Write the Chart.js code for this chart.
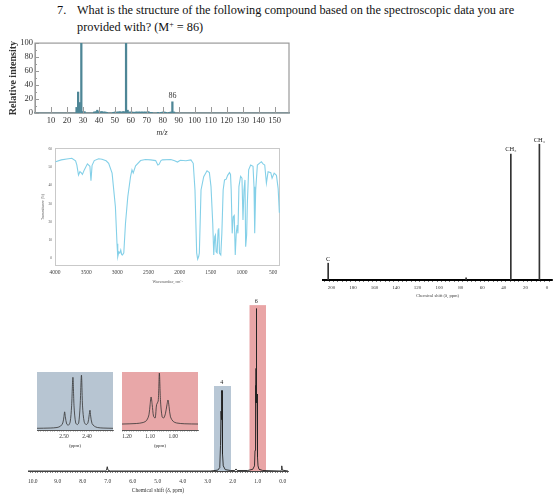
<!DOCTYPE html>
<html><head><meta charset="utf-8">
<script src="https://cdn.jsdelivr.net/npm/chart.js@4.4.1/dist/chart.umd.min.js"></script>
<style>
html,body{margin:0;padding:0;background:#fff;}
body{width:560px;height:496px;position:relative;overflow:hidden;font-family:"Liberation Serif",serif;}
canvas{position:absolute;}
.q{position:absolute;font-size:12.3px;line-height:14px;color:#111;white-space:nowrap;font-family:"Liberation Serif",serif;}
.q sup{font-size:8px;vertical-align:top;position:relative;top:-2px;}
</style></head><body>
<div class="q" style="left:57px;top:3px">7.</div>
<div class="q" style="left:77px;top:3px">What is the structure of the following compound based on the spectroscopic data you are</div>
<div class="q" style="left:77px;top:20px">provided with? (M<sup>+</sup> = 86)</div>
<canvas id="ms" width="300" height="104" style="left:0px;top:36px"></canvas>
<canvas id="ir" width="260" height="145" style="left:30px;top:140px"></canvas>
<canvas id="c13" width="250" height="170" style="left:310px;top:130px"></canvas>
<canvas id="h1" width="275" height="206" style="left:20px;top:290px"></canvas>
<canvas id="insetA" width="90" height="85" style="left:30px;top:365px"></canvas>
<canvas id="insetB" width="90" height="85" style="left:115px;top:365px"></canvas>
<script>
// ---------------- DATA ----------------
// Mass spectrum
const msMass      = [26,27,28,29,30,31,37,38,39,40,41,42,43,44,45,49,50,51,52,53,54,55,56,57,58,59,60,61,62,63,64,65,66,67,68,69,70,71,72,73,77,79,80,81,82,84,85,86,87];
const msIntensity = [8,30,15,100,2,2,1.5,2,4,2,2,2,1.5,1.5,1,1,1.5,1.5,1.5,2,1.5,2,2,100,4,1.5,1.5,1.5,1,1.5,1.5,1.5,1.5,1.5,1.5,1.5,1.5,2,1,1,1,1,1.5,1.5,1,1,1.5,16,1.5];
const msXTicks    = [10,20,30,40,50,60,70,80,90,100,110,120,130,140,150];
const msYTicks    = [0,20,40,60,80,100];
const msPeakLabels = [86];

// IR spectrum
const irWavenumber = [3990,3900,3811,3730,3670,3650,3623,3600,3580,3560,3530,3480,3440,3423,3405,3370,3300,3246,3180,3139,3084,3031,3005,2993,2975,2960,2945,2930,2918,2896,2869,2832,2788,2765,2745,2707,2627,2550,2465,2385,2350,2331,2300,2277,2142,2080,2035,1990,1900,1819,1782,1754,1727,1711,1695,1684,1657,1614,1561,1523,1497,1469,1453,1437,1426,1415,1399,1383,1372,1361,1340,1323,1302,1280,1253,1230,1200,1184,1173,1157,1140,1124,1108,1092,1076,1065,1049,1022,1000,984,968,952,941,925,914,893,861,823,807,796,780,753,689,662,635,608,581,538,517,484,447,420,400];
const irTransmittance = [53.0,54.0,54.5,54.9,53.5,51.2,45.7,47.5,47.0,46.0,48.5,51.8,50.5,42.6,51.0,53.6,54.6,54.3,53.5,52.1,46.7,28.3,8,0.9,3.5,2.9,4.6,2.0,1.8,3.0,19.2,33.8,44.8,48.5,46.8,50.7,53.6,54.2,54.0,53.6,51.2,51.5,53.6,54.0,54.2,53.5,52.8,53.8,53.5,54.0,52.1,37.5,3.0,-0.4,1.0,3.0,37.5,44.8,48.0,47.0,39.3,19.2,1.8,11.9,12.8,3.6,3.0,15.5,16.5,2.7,1.8,13.7,37.5,43.0,43.4,45.5,47.0,46.0,37.5,13.7,22.8,23.5,1.8,13.7,18.3,13.7,39.3,45.0,44.0,21.0,37.5,43.0,6.4,12.8,30,48.5,51.2,50.5,39.3,13.7,37.5,51.2,53.0,51.8,51.2,41.2,47.5,47.0,43.9,46.7,45.5,38.4,25];
const irXTicks = [4000,3500,3000,2500,2000,1500,1000,500];
const irYTicks = [0,10,20,30,40,50,60];

// 13C NMR
const c13Shift     = [203,75,33.5,7];
const c13Height    = [12,1.5,90,97];
const c13Labels    = ['C','','CH\u2082','CH\u2083'];
const c13XTicks    = [200,180,160,140,120,100,80,60,40,20,0];

// 1H NMR (full)
const h1Shift     = [10.19,7.10,7.05,7.02,6.99,6.90,2.90,2.60,2.52,2.49,2.47,2.46,2.45,2.44,2.43,2.42,2.40,2.38,2.30,2.10,1.92,1.87,1.82,1.40,1.20,1.13,1.11,1.10,1.09,1.08,1.07,1.06,1.05,1.04,1.03,1.01,0.99,0.95,0.80,0.10,0.06,0.04,0.02,-0.21];
const h1Intensity = [0,0,0.5,2.5,0.5,0,0,0.5,2,15,35,47,30,46,47,30,10,3,0.8,0.3,0.3,1.2,0.3,0.3,1,3,12,50,35,40,60,95,60,40,45,8,3,1,0.3,0,0.5,3,0.5,0];
const h1XTicks    = [10,9,8,7,6,5,4,3,2,1,0];
const h1Regions   = [[2.75,2.07,49.7],[1.33,0.67,97]];
const h1Integrals = [[2.44,'4'],[1.06,'6']];

// Inset A: quartet
const qShift     = [2.617,2.56,2.53,2.515,2.505,2.500,2.497,2.494,2.488,2.480,2.473,2.467,2.461,2.456,2.449,2.442,2.436,2.430,2.424,2.419,2.412,2.404,2.396,2.391,2.387,2.384,2.378,2.368,2.355,2.33,2.287];
const qIntensity = [0,0.5,1.5,4,10,22,31,22,8,6,12,40,96,40,10,7,10,40,100,40,12,7,10,23,34,23,9,4,1.5,0.5,0];
const qXTicks    = [2.50,2.40];

// Inset B: triplet
const tShift     = [1.2215,1.16,1.13,1.115,1.105,1.100,1.0957,1.091,1.085,1.078,1.072,1.065,1.060,1.055,1.048,1.041,1.034,1.027,1.0227,1.018,1.012,1.000,0.985,0.95,0.893];
const tIntensity = [0,1,3,7,18,38,53,38,15,12,38,45,100,45,14,12,20,38,47,34,14,5,2,0.5,0];
const tXTicks    = [1.20,1.10,1.00];

// ---------------- STYLE / SETUP ----------------
Chart.defaults.font.family = '"Liberation Serif", serif';
Chart.defaults.color = '#333';
const base = {responsive:false, animation:false, devicePixelRatio:1,
  plugins:{legend:{display:false}, tooltip:{enabled:false}}};
function pts(xs, ys){ return xs.map((v,i)=>({x:v, y:ys[i]})); }
function rangeTicks(a,b,step){ const t=[]; const n=Math.round((b-a)/step); for(let i=0;i<=n;i++) t.push(+(a+i*step).toFixed(4)); return t; }

// ---------- Mass spectrum ----------
new Chart(document.getElementById('ms'), {
  type:'bar',
  data:{datasets:[{data:pts(msMass,msIntensity), backgroundColor:'#4e8696', barThickness:1.6, grouped:false}]},
  options:{...base,
    layout:{padding:{left:0,right:11,top:7,bottom:0}},
    scales:{
      x:{type:'linear', min:0, max:159, offset:false, grid:{display:false, drawTicks:false},
         border:{display:true, color:'#5d8b96', width:1.5},
         afterBuildTicks:s=>{ s.ticks = msXTicks.map(v=>({value:v})); },
         ticks:{font:{size:8.5}, padding:3, maxRotation:0, autoSkip:false, color:'#333', callback:v=>String(v)},
         title:{display:true, text:'m/z', font:{size:8, style:'italic'}, padding:{top:0,bottom:2}},
         afterFit:s=>{ s.height = 27; }},
      y:{min:0, max:100, grid:{display:false, drawTicks:false}, border:{display:true, color:'#999'},
         afterBuildTicks:s=>{ s.ticks = msYTicks.map(v=>({value:v})); },
         ticks:{font:{size:8.5}, padding:2, color:'#333'},
         title:{display:true, text:'Relative intensity', font:{size:10, weight:'bold'}, padding:{top:7,bottom:0}},
         afterFit:s=>{ s.width = 35; }}
    }},
  plugins:[{id:'msDeco',
    beforeDatasetsDraw(c){ const {ctx, chartArea:a}=c; ctx.save(); ctx.strokeStyle='#9a9a9a'; ctx.lineWidth=1.2;
      ctx.strokeRect(a.left, a.top, a.right-a.left, a.bottom-a.top); ctx.restore(); },
    afterDatasetsDraw(c){ const {ctx, chartArea:a, scales:{x,y}}=c; ctx.save();
      ctx.strokeStyle='#9a9a9a'; ctx.lineWidth=1;
      msXTicks.forEach(v=>{ const px=Math.round(x.getPixelForValue(v))+0.5; ctx.beginPath(); ctx.moveTo(px,a.bottom); ctx.lineTo(px,a.bottom-6); ctx.stroke(); });
      for(let v=0; v<=100; v+=10){ const py=Math.round(y.getPixelForValue(v))+0.5; ctx.beginPath(); ctx.moveTo(a.left,py); ctx.lineTo(a.left+(v%20===0?4:2),py); ctx.stroke(); }
      ctx.fillStyle='#333'; ctx.font='8px "Liberation Serif"'; ctx.textAlign='center'; ctx.textBaseline='bottom';
      msPeakLabels.forEach(m=>{ const i=msMass.indexOf(m); ctx.fillText(String(m), x.getPixelForValue(m), y.getPixelForValue(msIntensity[i])-2); });
      ctx.restore(); }}]
});

// ---------- IR ----------
new Chart(document.getElementById('ir'), {
  type:'line',
  data:{datasets:[{data:pts(irWavenumber,irTransmittance), borderColor:'#84d0e8', borderWidth:1.1, pointRadius:0, tension:0, fill:false}]},
  options:{...base,
    layout:{padding:{left:0,right:10,top:8,bottom:0}},
    scales:{
      x:{type:'linear', reverse:true, min:390, max:4000, grid:{display:false, drawTicks:false}, border:{display:false},
         afterBuildTicks:s=>{ s.ticks = irXTicks.map(v=>({value:v})); },
         ticks:{font:{size:5.5}, padding:3, maxRotation:0, autoSkip:false, color:'#444', callback:v=>String(v)},
         title:{display:true, text:'Wavenumber, cm\u207B\u00B9', font:{size:4}, padding:{top:0,bottom:1}, color:'#555'},
         afterFit:s=>{ s.height = 19; }},
      y:{min:-4.2, max:60.5, grid:{display:false, drawTicks:false}, border:{display:false},
         afterBuildTicks:s=>{ s.ticks = irYTicks.map(v=>({value:v})); },
         ticks:{font:{size:3.5}, padding:3, color:'#555', callback:v=>String(v)},
         title:{display:true, text:'Transmittance (%)', font:{size:3.5}, padding:{top:11,bottom:0}, color:'#555'},
         afterFit:s=>{ s.width = 25; }}
    }},
  plugins:[{id:'irBox', beforeDatasetsDraw(c){ const {ctx, chartArea:a}=c; ctx.save(); ctx.strokeStyle='#c9c9c9'; ctx.lineWidth=1;
      ctx.strokeRect(a.left+0.5, a.top+0.5, a.right-a.left-1, a.bottom-a.top-1); ctx.restore(); }}]
});

// ---------- 13C ----------
new Chart(document.getElementById('c13'), {
  type:'bar',
  data:{datasets:[{data:pts(c13Shift,c13Height), backgroundColor:'#333', barThickness:1, grouped:false}]},
  options:{...base,
    layout:{padding:{left:13,right:8,top:10,bottom:0}},
    scales:{
      x:{type:'linear', reverse:true, min:-4.7, max:207.8, offset:false,
         grid:{display:true, drawOnChartArea:false, drawTicks:true, tickLength:2, color:'#222', lineWidth:0.6},
         border:{display:true, color:'#000', width:2},
         afterBuildTicks:s=>{ s.ticks = rangeTicks(-4,204,4).map(v=>({value:v})); },
         ticks:{font:{size:5}, padding:3, maxRotation:0, autoSkip:false, color:'#333',
                callback:(v)=> c13XTicks.includes(v) ? String(v) : ''},
         title:{display:true, text:'Chemical shift (\u03B4, ppm)', font:{size:4.5}, padding:{top:0,bottom:1}, color:'#444'},
         afterFit:s=>{ s.height = 20; }},
      y:{display:false, min:0, max:100}
    }},
  plugins:[{id:'c13Lab', afterDatasetsDraw(c){ const {ctx, scales:{x,y}}=c; ctx.save(); ctx.fillStyle='#222';
      ctx.font='6.5px "Liberation Serif"'; ctx.textAlign='center'; ctx.textBaseline='bottom';
      c13Shift.forEach((s,i)=>{ if(c13Labels[i]) ctx.fillText(c13Labels[i], x.getPixelForValue(s), y.getPixelForValue(c13Height[i])-1); });
      ctx.restore(); }}]
});

// ---------- 1H main ----------
const regionColors = ['rgba(176,193,208,0.9)','rgba(231,155,156,0.9)'];
new Chart(document.getElementById('h1'), {
  type:'line',
  data:{datasets:[{data:pts(h1Shift,h1Intensity), borderColor:'#222', borderWidth:0.9, pointRadius:0, tension:0, fill:false}]},
  options:{...base,
    layout:{padding:{left:8,right:7,top:10,bottom:0}},
    scales:{
      x:{type:'linear', reverse:true, min:-0.21, max:10.19,
         grid:{display:true, drawOnChartArea:false, drawTicks:true, tickLength:2, color:'#555', lineWidth:0.7},
         border:{display:true, color:'#444', width:1},
         afterBuildTicks:s=>{ s.ticks = rangeTicks(-0.2,10.1,0.1).map(v=>({value:v})); },
         ticks:{font:{size:5.5}, padding:5, maxRotation:0, autoSkip:false, color:'#333',
                callback:(v)=> h1XTicks.includes(v) ? v.toFixed(1) : ''},
         title:{display:true, text:'Chemical shift (\u03B4, ppm)', font:{size:5.5}, padding:{top:0,bottom:2}},
         afterFit:s=>{ s.height = 25; }},
      y:{display:false, min:0, max:100}
    }},
  plugins:[{id:'h1Deco',
    beforeDatasetsDraw(c){ const {ctx, chartArea:a, scales:{x,y}}=c; ctx.save();
      h1Regions.forEach((r,i)=>{ const x0=x.getPixelForValue(r[0]), x1=x.getPixelForValue(r[1]), yt=y.getPixelForValue(r[2]);
        ctx.fillStyle=regionColors[i]; ctx.fillRect(x0, yt, x1-x0, a.bottom-yt); });
      ctx.restore(); },
    afterDatasetsDraw(c){ const {ctx, scales:{x,y}}=c; ctx.save(); ctx.fillStyle='#222';
      ctx.font='6px "Liberation Serif"'; ctx.textAlign='center'; ctx.textBaseline='bottom';
      h1Integrals.forEach((g,i)=>{ ctx.fillText(g[1], x.getPixelForValue(g[0]), y.getPixelForValue(h1Regions[i][2])-1); });
      ctx.restore(); }}]
});

// ---------- insets ----------
function inset(id, xs, ys, ticks, xmin, xmax, ymin, ymax, bg){
  new Chart(document.getElementById(id), {
    type:'line',
    data:{datasets:[{data:pts(xs,ys), borderColor:'#333', borderWidth:0.8, pointRadius:0, tension:0.3, fill:false}]},
    options:{...base,
      layout:{padding:{left:7,right:7,top:7,bottom:0}},
      scales:{
        x:{type:'linear', reverse:true, min:xmin, max:xmax,
           grid:{display:true, drawOnChartArea:false, drawTicks:true, tickLength:1.5, color:'#555', lineWidth:0.6},
           border:{display:true, color:'#555', width:1, dash:[1,1]},
           afterBuildTicks:s=>{ s.ticks = rangeTicks(Math.ceil(xmin*100)/100, Math.floor(xmax*100)/100, 0.01).map(v=>({value:v})); },
           ticks:{font:{size:5.5}, padding:2, maxRotation:0, autoSkip:false, color:'#333',
                  callback:(v)=> ticks.some(t=>Math.abs(t-v)<1e-6) ? v.toFixed(2) : ''},
           title:{display:true, text:'(ppm)', font:{size:5}, padding:{top:0,bottom:1}},
           afterFit:s=>{ s.height = 20; }},
        y:{display:false, min:ymin, max:ymax}
      }},
    plugins:[{id:'bg', beforeDatasetsDraw(c){ const {ctx, chartArea:a}=c; ctx.save(); ctx.fillStyle=bg; ctx.fillRect(a.left,a.top,a.right-a.left,a.bottom-a.top); ctx.restore(); }}]
  });
}
inset('insetA', qShift, qIntensity, qXTicks, 2.287, 2.617, -3.2, 106, '#b7c5d2');
inset('insetB', tShift, tIntensity, tXTicks, 0.893, 1.2215, -11.7, 102, '#e8a7a8');
</script>
</body></html>
